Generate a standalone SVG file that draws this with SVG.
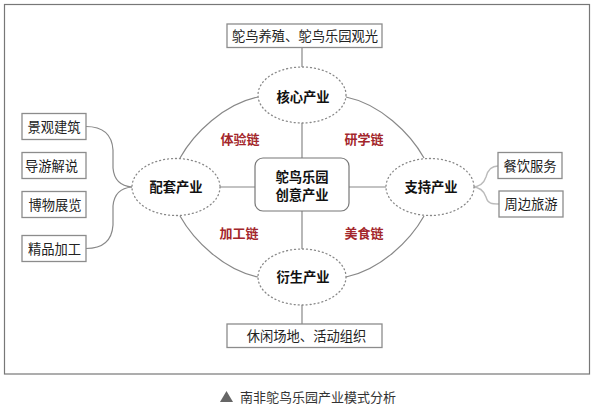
<svg xmlns="http://www.w3.org/2000/svg" width="594" height="412" viewBox="0 0 594 412">
<style>
text{font-family:"Noto Sans CJK SC","Noto Sans",sans-serif;}
.frame{fill:#fff;stroke:#777;stroke-width:1.2;}
.box{fill:#fff;stroke:#8c8c8c;stroke-width:1.3;}
.cbox{fill:#fff;stroke:#777;stroke-width:1.2;}
.ell{fill:#fff;stroke:#888;stroke-width:1.3;stroke-dasharray:1 3;stroke-linecap:round;}
.ln{fill:none;stroke:#888;stroke-width:1.2;}
.lt{fill:none;stroke:#bbb;stroke-width:1.4;}
.t{font-size:13.3px;fill:#222;text-anchor:middle;}
.b{font-size:13.3px;fill:#111;font-weight:bold;text-anchor:middle;}
.r{font-size:13px;fill:#a3262b;font-weight:bold;text-anchor:middle;}
.cap{font-size:13px;fill:#333;}
</style>
<rect class="frame" x="4.5" y="4.5" width="585" height="369.5"/>
<g id="connectors">
<line class="ln" x1="302" y1="47" x2="302" y2="67"/>
<line class="ln" x1="302" y1="123" x2="302" y2="158"/>
<line class="ln" x1="302" y1="211" x2="302" y2="249"/>
<line class="ln" x1="302" y1="305" x2="302" y2="324"/>
<line class="ln" x1="220" y1="187" x2="255" y2="187"/>
<line class="ln" x1="349" y1="187" x2="386" y2="187"/>
<path class="ln" d="M258,97 C224,104 194,133 180,158"/>
<path class="ln" d="M346,97 C380,104 410,133 424,158"/>
<path class="ln" d="M258,277 C224,270 194,241 180,216"/>
<path class="ln" d="M346,277 C380,270 410,241 424,216"/>
<path class="ln" d="M86,126.5 C104,126.5 112,135 113,150 L113,168 C114,180 120,186 132,187"/>
<path class="ln" d="M86,248.5 C104,248.5 112,240 113,225 L113,206 C114,194 120,188 132,187"/>
<path class="lt" d="M472,187 C480,187 484,183 486,177 C488,169 492,166 498,166"/>
<path class="lt" d="M472,187 C480,187 484,191 486,197 C488,204 492,204 499,204"/>
</g>
<g id="top-box"><rect class="box" x="227" y="24" width="155" height="23.5"/><text class="t" x="305" y="40.5">鸵鸟养殖、鸵鸟乐园观光</text></g>
<g id="bottom-box"><rect class="box" x="227" y="324" width="155" height="23.5"/><text class="t" x="306.5" y="340.5">休闲场地、活动组织</text></g>
<g id="center"><rect class="cbox" x="255" y="158" width="94" height="53" rx="8"/><text class="b" x="302" y="181.5">鸵鸟乐园</text><text class="b" x="302" y="200">创意产业</text></g>
<g id="core"><ellipse class="ell" cx="302" cy="95" rx="44" ry="28"/><text class="b" x="303" y="102">核心产业</text></g>
<g id="derived"><ellipse class="ell" cx="302" cy="277" rx="44" ry="28"/><text class="b" x="303" y="282">衍生产业</text></g>
<g id="supporting"><ellipse class="ell" cx="176" cy="187" rx="44" ry="28.5"/><text class="b" x="176" y="192">配套产业</text></g>
<g id="support"><ellipse class="ell" cx="430" cy="187" rx="44" ry="28.5"/><text class="b" x="431" y="192">支持产业</text></g>
<g id="chains">
<text class="r" x="240" y="144">体验链</text>
<text class="r" x="364" y="144">研学链</text>
<text class="r" x="239" y="238">加工链</text>
<text class="r" x="364" y="238">美食链</text>
</g>
<g id="left1"><rect class="box" x="22" y="113.5" width="64" height="26"/><text class="t" x="54" y="131.5">景观建筑</text></g>
<g id="left2"><rect class="box" x="22" y="152.5" width="64" height="26"/><text class="t" x="51.5" y="170.5">导游解说</text></g>
<g id="left3"><rect class="box" x="22" y="191.5" width="64" height="26"/><text class="t" x="55" y="209.5">博物展览</text></g>
<g id="left4"><rect class="box" x="22" y="235.5" width="64" height="26"/><text class="t" x="54.5" y="253.5">精品加工</text></g>
<g id="right1"><rect class="box" x="498" y="152.5" width="64" height="26"/><text class="t" x="530" y="170.5">餐饮服务</text></g>
<g id="right2"><rect class="box" x="499" y="191" width="64" height="26"/><text class="t" x="531" y="209">周边旅游</text></g>
<g id="caption"><polygon points="220,402 226.5,391 233,402" fill="#666"/><text class="cap" x="240" y="402">南非鸵鸟乐园产业模式分析</text></g>
</svg>
